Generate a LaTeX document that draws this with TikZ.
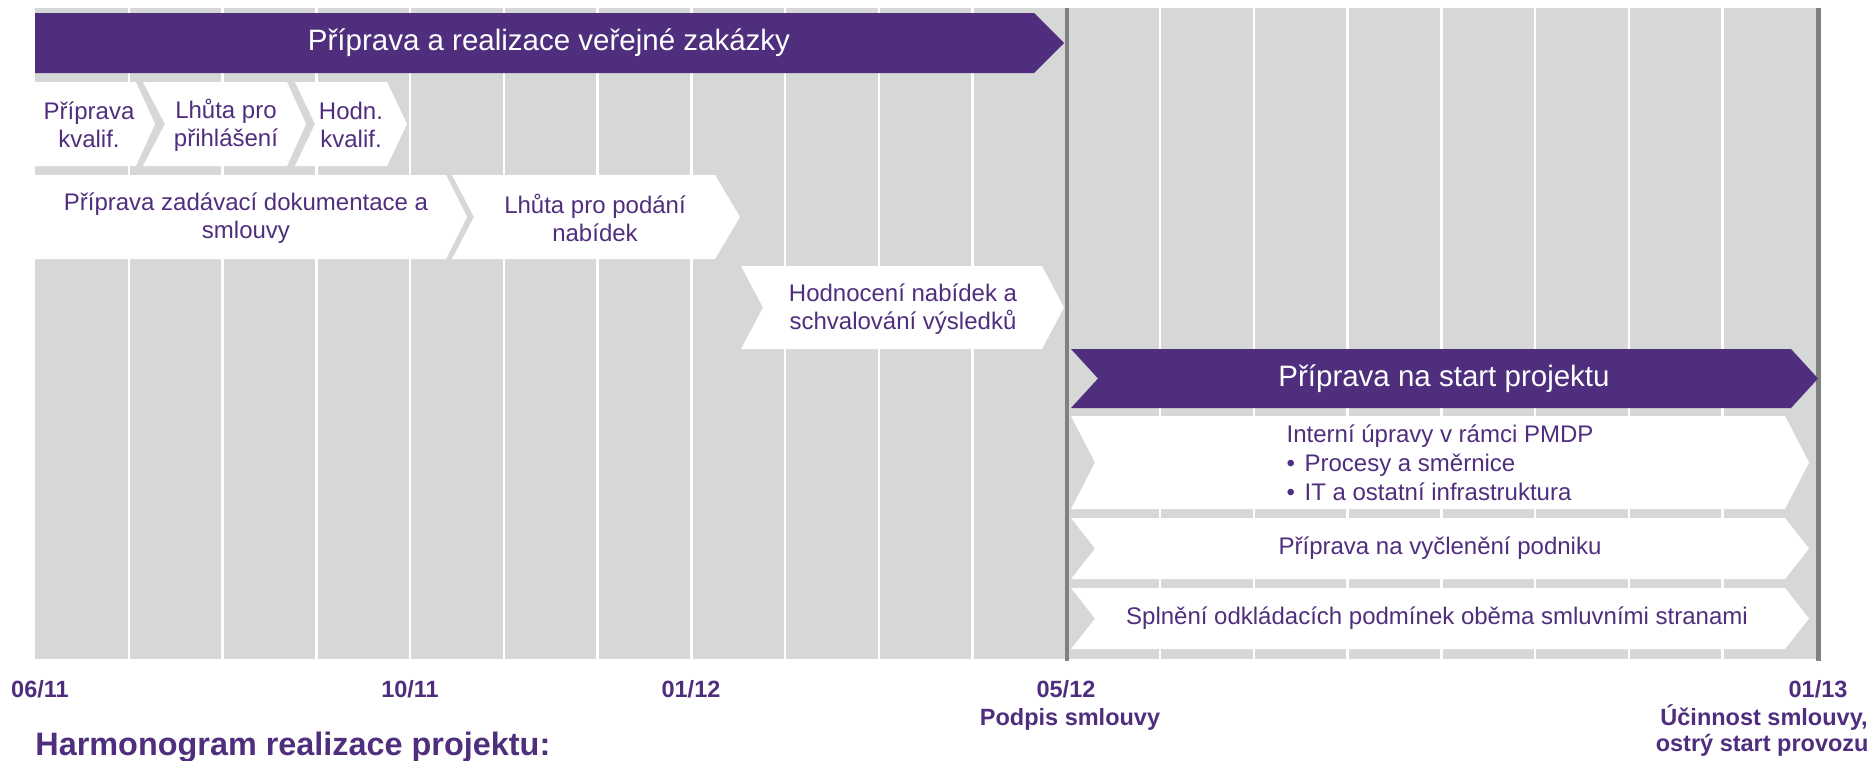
\documentclass[tikz,border=0pt]{standalone}
\usepackage{fontspec}
\setmainfont{Liberation Sans}
\definecolor{pmdpviolet}{RGB}{80,46,126}
\definecolor{columngrey}{RGB}{214,215,215}
\definecolor{milestonegrey}{RGB}{128,128,128}
\begin{document}
\begin{tikzpicture}[x=0.5pt,y=-0.5pt]
\tikzstyle{every node}+=[inner sep=0pt]
\tikzstyle{phasetext}=[text=white,font=\fontsize{14.75}{17}\selectfont]
\tikzstyle{tasktext}=[text=pmdpviolet,align=center,font=\fontsize{12}{14}\selectfont]
\tikzstyle{datelabel}=[text=pmdpviolet,anchor=base,font=\bfseries\fontsize{11.75}{13}\selectfont]
\useasboundingbox (0,0) rectangle (1872,760);
\fill [columngrey] (35,8) rectangle (1818,659);
\foreach \i in {1,...,18}
  \draw [white,line width=1.25pt] (35+93.75*\i,8) -- (35+93.75*\i,659);
\draw [milestonegrey,line width=2.25pt] (1067,8) -- (1067,661);
\draw [milestonegrey,line width=2.25pt] (1818.5,8) -- (1818.5,661);
\fill [pmdpviolet] (35,13) -- (1034,13) -- (1064,43) -- (1034,73) -- (35,73) -- cycle;
\node [phasetext] (zakazka) at (549,43) {Příprava a realizace veřejné zakázky};
\fill [white] (35,82) -- (136,82) -- (155,124) -- (136,166) -- (35,166) -- cycle;
\node [tasktext] (kvalif) at (89,125) {Příprava\\kvalif.};
\fill [white] (143,82) -- (287,82) -- (306,124) -- (287,166) -- (143,166) -- (165,124) -- cycle;
\node [tasktext] (prihlaseni) at (226,125) {Lhůta pro\\přihlášení};
\fill [white] (295,82) -- (387,82) -- (407,124) -- (387,166) -- (295,166) -- (315,124) -- cycle;
\node [tasktext] (hodnkvalif) at (351,125) {Hodn.\\kvalif.};
\fill [white] (35,175) -- (446,175) -- (467,217) -- (446,259) -- (35,259) -- cycle;
\node [tasktext] (dokumentace) at (246,218) {Příprava zadávací dokumentace a\\smlouvy};
\fill [white] (452,175) -- (715,175) -- (740,217) -- (715,259) -- (452,259) -- (474,217) -- cycle;
\node [tasktext] (podani) at (595,218) {Lhůta pro podání\\nabídek};
\fill [white] (741,266) -- (1042,266) -- (1064,307.5) -- (1042,349) -- (741,349) -- (763,307.5) -- cycle;
\node [tasktext] (hodnoceni) at (903,309) {Hodnocení nabídek a\\schvalování výsledků};
\fill [pmdpviolet] (1071,349) -- (1791,349) -- (1818,378.5) -- (1791,408) -- (1071,408) -- (1098,378.5) -- cycle;
\node [phasetext] (start) at (1444,378.5) {Příprava na start projektu};
\fill [white] (1071,416) -- (1785,416) -- (1809,462.5) -- (1785,509) -- (1071,509) -- (1095,462.5) -- cycle;
\node [tasktext,align=left,font=\fontsize{12}{14.5}\selectfont] (interni) at (1440,462.5) {Interní úpravy v rámci PMDP\\\makebox[9pt][l]{•}Procesy a směrnice\\\makebox[9pt][l]{•}IT a ostatní infrastruktura};
\fill [white] (1071,518) -- (1785,518) -- (1809,548.5) -- (1785,579) -- (1071,579) -- (1095,548.5) -- cycle;
\node [tasktext] (vycleneni) at (1440,548.5) {Příprava na vyčlenění podniku};
\fill [white] (1071,588) -- (1785,588) -- (1809,618.5) -- (1785,649) -- (1071,649) -- (1095,618.5) -- cycle;
\node [tasktext] (odkladaci) at (1437,618.5) {Splnění odkládacích podmínek oběma smluvními stranami};
\node [datelabel] (d0611) at (40,697) {06/11};
\node [datelabel] (d1011) at (410,697) {10/11};
\node [datelabel] (d0112) at (691,697) {01/12};
\node [datelabel] (d0512) at (1066,697) {05/12};
\node [datelabel] (podpis) at (1070,725) {Podpis smlouvy};
\node [datelabel] (d0113) at (1818,697) {01/13};
\node [datelabel,anchor=base east] (ucinnost) at (1868,725) {Účinnost smlouvy,};
\node [datelabel,anchor=base east] (provoz) at (1869,751) {ostrý start provozu};
\node [datelabel,anchor=base west,font=\bfseries\fontsize{16.2}{18}\selectfont] (harmonogram) at (35,755) {Harmonogram realizace projektu:};
\end{tikzpicture}
\end{document}
